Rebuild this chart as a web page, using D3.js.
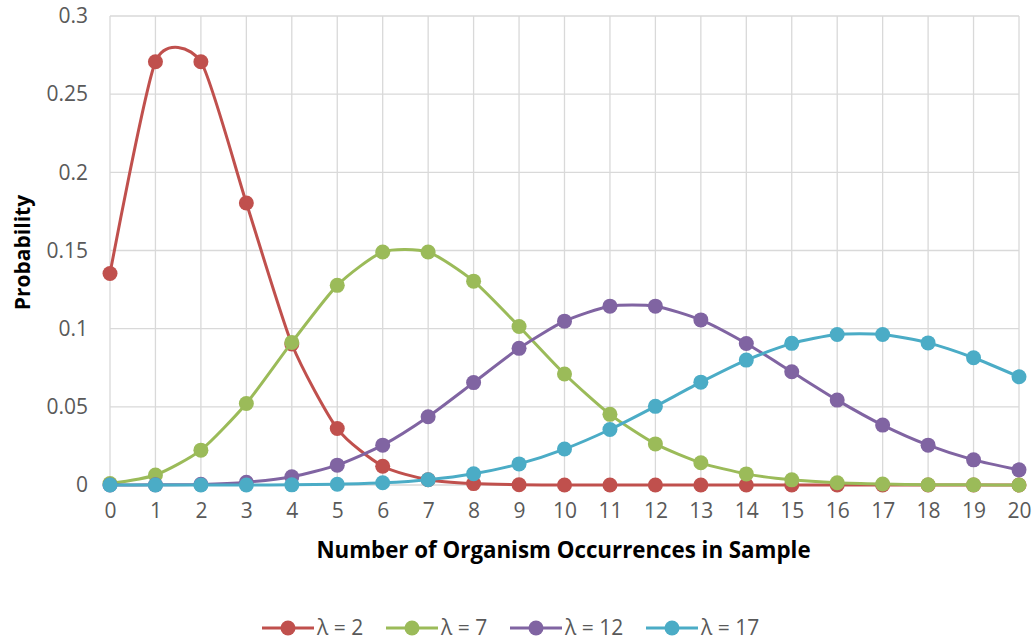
<!DOCTYPE html>
<html>
<head>
<meta charset="utf-8">
<script src="https://cdn.jsdelivr.net/npm/d3@7"></script>
<style>
  body { margin: 0; background: #fff; }
  text { font-family: "Open Sans", sans-serif; }
</style>
</head>
<body>
<svg id="chart" width="1033" height="641"></svg>
<script>
// data
var counts = [0,1,2,3,4,5,6,7,8,9,10,11,12,13,14,15,16,17,18,19,20];
var lam2  = [0.1353,0.2707,0.2707,0.1804,0.0902,0.0361,0.0120,0.0034,0.0009,0.0002,0.0000,0,0,0,0,0,0,0,0,0,0];
var lam7  = [0.0009,0.0064,0.0223,0.0521,0.0912,0.1277,0.1490,0.1490,0.1304,0.1014,0.0710,0.0452,0.0263,0.0142,0.0071,0.0033,0.0014,0.0006,0.0002,0.0001,0.0000];
var lam12 = [0.0000,0.0001,0.0004,0.0018,0.0053,0.0127,0.0255,0.0437,0.0655,0.0874,0.1048,0.1144,0.1144,0.1056,0.0905,0.0724,0.0543,0.0383,0.0255,0.0161,0.0097];
var lam17 = [0.0000,0.0000,0.0000,0.0000,0.0001,0.0005,0.0014,0.0034,0.0072,0.0135,0.0230,0.0355,0.0503,0.0658,0.0799,0.0906,0.0963,0.0963,0.0909,0.0814,0.0692];
var yTicks = [0,0.05,0.1,0.15,0.2,0.25,0.3];
var yTickLabels = ["0","0.05","0.1","0.15","0.2","0.25","0.3"];
var seriesNames = ["λ = 2","λ = 7","λ = 12","λ = 17"];
var seriesColors = ["#C0504D","#9BBB59","#8064A2","#4BACC6"];

var svg = d3.select("#chart");
var margin = { top: 16, right: 14, bottom: 156, left: 110 },
  width = 1033 - margin.left - margin.right,
  height = 641 - margin.top - margin.bottom;

var g = svg.append("g")
  .attr("transform", "translate(" + margin.left + "," + margin.top + ")");

var x = d3.scaleLinear().domain([0, 20]).range([0, width]);
var y = d3.scaleLinear().domain([0, 0.3]).range([height, 0]);

// grid lines
g.append("g")
  .selectAll("line.v")
  .data(counts)
  .enter()
  .append("line")
  .attr("x1", function (d) { return x(d); })
  .attr("x2", function (d) { return x(d); })
  .attr("y1", 0)
  .attr("y2", height)
  .attr("stroke", "#d9d9d9")
  .attr("stroke-width", 1.3);
g.append("g")
  .selectAll("line.h")
  .data(yTicks)
  .enter()
  .append("line")
  .attr("x1", 0)
  .attr("x2", width)
  .attr("y1", function (d) { return y(d); })
  .attr("y2", function (d) { return y(d); })
  .attr("stroke", "#d9d9d9")
  .attr("stroke-width", 1.3);

// axes
var xAxis = g.append("g")
  .attr("transform", "translate(0," + height + ")")
  .call(d3.axisBottom(x).tickValues(counts).tickFormat(d3.format("d")).tickSize(0).tickPadding(18));
xAxis.select(".domain").remove();
xAxis.selectAll("text")
  .attr("font-family", "Open Sans")
  .attr("font-size", 21)
  .attr("fill", "#595959");

var yAxis = g.append("g")
  .call(d3.axisLeft(y).tickValues(yTicks)
    .tickFormat(function (d, i) { return yTickLabels[i]; })
    .tickSize(0).tickPadding(22));
yAxis.select(".domain").remove();
yAxis.selectAll("text")
  .attr("font-family", "Open Sans")
  .attr("font-size", 21)
  .attr("fill", "#595959");

// axis titles
svg.append("text")
  .attr("x", margin.left + width / 2 - 1)
  .attr("y", 558)
  .attr("text-anchor", "middle")
  .attr("font-size", 22.3)
  .attr("font-weight", "bold")
  .attr("fill", "#000")
  .text("Number of Organism Occurrences in Sample");

svg.append("text")
  .attr("transform", "translate(30," + (margin.top + height / 2 + 2) + ") rotate(-90)")
  .attr("text-anchor", "middle")
  .attr("font-size", 21)
  .attr("font-weight", "bold")
  .attr("fill", "#000")
  .text("Probability");

// series
var allSeries = [lam2, lam7, lam12, lam17];
var line = d3.line()
  .x(function (d, i) { return x(counts[i]); })
  .y(function (d) { return y(d); })
  .curve(d3.curveCardinal.tension(0.35));

allSeries.forEach(function (vals, s) {
  g.append("path")
    .datum(vals)
    .attr("d", line)
    .attr("fill", "none")
    .attr("stroke", seriesColors[s])
    .attr("stroke-width", 3);
  g.selectAll("circle.s" + s)
    .data(vals)
    .enter()
    .append("circle")
    .attr("cx", function (d, i) { return x(counts[i]); })
    .attr("cy", function (d) { return y(d); })
    .attr("r", 7.5)
    .attr("fill", seriesColors[s]);
});

// legend
var legendX = [262, 386, 510, 646];
var legend = svg.append("g");
seriesNames.forEach(function (name, s) {
  var lg = legend.append("g").attr("transform", "translate(" + legendX[s] + ",628)");
  lg.append("line")
    .attr("x1", 0).attr("x2", 52)
    .attr("y1", 0).attr("y2", 0)
    .attr("stroke", seriesColors[s])
    .attr("stroke-width", 3);
  lg.append("circle")
    .attr("cx", 26).attr("cy", 0).attr("r", 7.5)
    .attr("fill", seriesColors[s]);
  lg.append("text")
    .attr("x", 55).attr("y", 7)
    .attr("font-size", 21)
    .attr("fill", "#595959")
    .text(name);
});
</script>
</body>
</html>
